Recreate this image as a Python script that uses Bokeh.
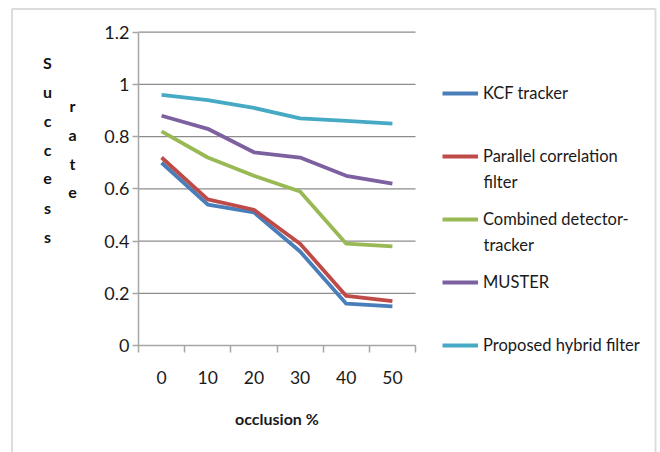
from bokeh.plotting import figure
from bokeh.models import (Range1d, LinearAxis, FixedTicker,
                          NumeralTickFormatter, Legend, LegendItem, Label, BoxAnnotation)
from bokeh.embed import file_html
from bokeh.resources import INLINE

# Success rate of each tracker against the occlusion level
occlusion = ["0", "10", "20", "30", "40", "50"]
kcf = [0.70, 0.54, 0.51, 0.36, 0.16, 0.15]
parallel = [0.72, 0.56, 0.52, 0.39, 0.19, 0.17]
combined = [0.82, 0.72, 0.65, 0.59, 0.39, 0.38]
muster = [0.88, 0.83, 0.74, 0.72, 0.65, 0.62]
hybrid = [0.96, 0.94, 0.91, 0.87, 0.86, 0.85]
series_names = ["KCF tracker", "Parallel correlation\nfilter", "Combined detector-\ntracker",
                "MUSTER", "Proposed hybrid filter"]
y_ticks = [0, 0.2, 0.4, 0.6, 0.8, 1.0, 1.2]

colors = ["#4A7EBB", "#BE4B48", "#98B954", "#7D60A0", "#46AAC5"]
FONT = "Lato"
TEXT_COL = "#1a1a1a"
AXIS_COL = "#a6a6a6"
GRID_COL = "#8c8c8c"

W, H = 660, 452
# plot area inside the canvas (pixels from the top-left corner)
AREA_L, AREA_R, AREA_T, AREA_B = 138, 415, 31.7, 345

# each occlusion level occupies one unit slot; points sit in the slot centres
n = len(occlusion)
slot_centres = [i + 0.5 for i in range(n)]
slot_edges = list(range(n + 1))
y_top = y_ticks[-1]

# the frame fills the whole canvas; the ranges are chosen so that the
# plot area lands on AREA_*, leaving room for the titles and the legend
kx = (AREA_R - AREA_L) / n
ky = (AREA_B - AREA_T) / y_top
x_range = Range1d(-AREA_L / kx, (W - AREA_L) / kx)
y_range = Range1d(-(H - AREA_B) / ky, y_top + AREA_T / ky)

p = figure(width=W, height=H, x_range=x_range, y_range=y_range,
           x_axis_location=None,
           output_backend="svg", toolbar_location=None, min_border=0)
p.outline_line_color = None
p.background_fill_color = "white"
p.border_fill_color = "white"
p.xgrid.visible = False
p.ygrid.visible = False

# horizontal gridlines across the plot area only
p.segment(x0=[0] * len(y_ticks), x1=[n] * len(y_ticks), y0=y_ticks, y1=y_ticks,
          line_color=GRID_COL, line_width=1.2)

# x axis: labels in the slot centres, tick marks on the slot boundaries
x_axis = LinearAxis(fixed_location=0, bounds=(0, n),
                    ticker=FixedTicker(ticks=slot_centres, minor_ticks=slot_edges),
                    major_label_overrides={c: lab for c, lab in zip(slot_centres, occlusion)},
                    axis_line_color=AXIS_COL, axis_line_width=1.5,
                    major_tick_line_color=None,
                    minor_tick_out=7, minor_tick_in=0,
                    minor_tick_line_color=AXIS_COL, minor_tick_line_width=1.5,
                    major_tick_out=0, major_tick_in=0,
                    major_label_standoff=18,
                    major_label_text_font=FONT, major_label_text_font_size="17.5px",
                    major_label_text_color=TEXT_COL,
                    axis_label="occlusion %", axis_label_standoff=22,
                    axis_label_text_font=FONT, axis_label_text_font_size="16px",
                    axis_label_text_font_style="bold", axis_label_text_color=TEXT_COL)
p.add_layout(x_axis, "below")

yax = p.yaxis[0]
yax.fixed_location = 0
yax.bounds = (0, y_top)
yax.ticker = FixedTicker(ticks=y_ticks)
yax.formatter = NumeralTickFormatter(format="0.[0]")
yax.major_tick_out = 6
yax.major_tick_in = 0
yax.minor_tick_line_color = None
yax.axis_line_color = AXIS_COL
yax.axis_line_width = 1.5
yax.major_tick_line_color = AXIS_COL
yax.major_tick_line_width = 1.5
yax.major_label_standoff = 3
yax.major_label_text_font = FONT
yax.major_label_text_font_size = "18px"
yax.major_label_text_color = TEXT_COL

items = []
wrapped = []
for name, vals, col in zip(series_names, [kcf, parallel, combined, muster, hybrid], colors):
    r = p.line(slot_centres, vals, line_width=3.8, line_color=col, line_join="round")
    first, *rest = name.split("\n")
    items.append(LegendItem(label=first, renderers=[r]))
    wrapped.append(rest)

# legend: entries every 63 px, first entry centred at y = 93 px
ENTRY_STEP, FIRST_Y, ITEM_H = 63, 93, 20
legend_h = len(items) * ITEM_H + (len(items) - 1) * (ENTRY_STEP - ITEM_H)
legend = Legend(items=items,
                location=(442, H - (FIRST_Y - ITEM_H / 2) - legend_h),
                label_text_font=FONT, label_text_font_size="16.5px", label_text_color=TEXT_COL,
                glyph_width=36, glyph_height=ITEM_H, label_height=ITEM_H, label_standoff=5,
                spacing=ENTRY_STEP - ITEM_H, padding=0, margin=0,
                border_line_color=None, background_fill_alpha=0)
p.add_layout(legend)

# continuation lines of the wrapped legend labels
for i, rest in enumerate(wrapped):
    for j, line in enumerate(rest):
        p.add_layout(Label(x=483, y=H - (FIRST_Y + ENTRY_STEP * i + 25 * (j + 1)),
                           x_units="screen", y_units="screen",
                           text=line, text_font=FONT, text_font_size="16.5px",
                           text_baseline="middle", text_color=TEXT_COL))

# stacked vertical y-axis title
for word, x0, y0 in [("Success", 47, 62), ("rate", 72, 105)]:
    for i, ch in enumerate(word):
        p.add_layout(Label(x=x0, y=H - (y0 + 29 * i), x_units="screen", y_units="screen",
                           text=ch, text_font=FONT, text_font_size="16px",
                           text_font_style="bold", text_align="center",
                           text_baseline="middle", text_color="#111111"))

# outer chart border (open at the bottom)
p.add_layout(BoxAnnotation(left=11.5, right=655, top=H - 8.5, bottom=-10,
                           left_units="screen", right_units="screen",
                           top_units="screen", bottom_units="screen",
                           fill_alpha=0, line_color="#8c8c8c", line_width=2))

open("out.html", "w").write(file_html(p, INLINE))
